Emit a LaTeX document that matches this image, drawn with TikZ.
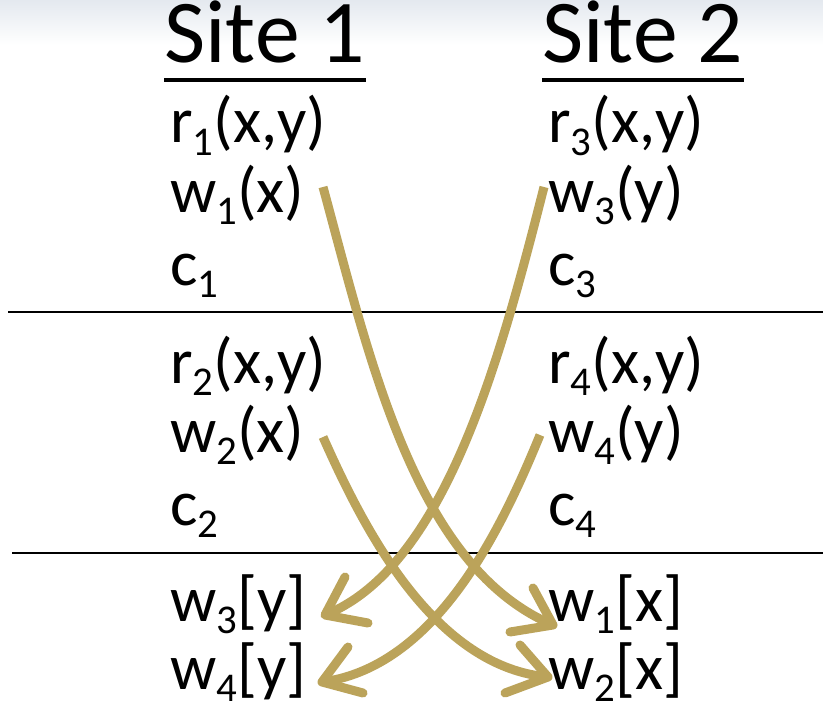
\documentclass[tikz,border=0pt]{standalone}
\usepackage{fontspec}
\setmainfont{Carlito}
\usetikzlibrary{calc}
\definecolor{gold}{HTML}{BBA35A}
\definecolor{haze}{HTML}{E4E9EF}
\newcommand{\low}[1]{\raisebox{-0.2em}{\fontsize{41}{41}\selectfont #1}}
\tikzset{
  sitehead/.style={
    anchor=base west,
    inner sep=0pt,
    text height=0.66em,
    text depth=0pt,
    font=\fontsize{90}{90}\selectfont
  },
  op/.style={
    anchor=base west,
    inner sep=0pt,
    text height=0.7em,
    text depth=0.22em,
    font=\fontsize{65}{65}\selectfont
  },
  headrule/.style={
    draw=black,
    line width=4bp
  },
  cut/.style={
    draw=black,
    line width=2bp
  },
  msg/.style={
    draw=gold,
    line width=9bp,
    shorten >=2bp
  },
  barb/.style={
    draw=gold,
    line width=9bp,
    line cap=round,
    line join=round
  }
}

\begin{document}
\begin{tikzpicture}[x=1bp,y=-1bp]
  \useasboundingbox (0,0) rectangle (823,710);
  \shade[top color=haze, bottom color=white] (0,0) rectangle (823,45);

  % Site headings
  \node[sitehead] (site1) at (164,63) {Site 1};
  \node[sitehead] (site2) at (542,63) {Site 2};
  \draw[headrule] ($(site1.base west)+(0,17)$) -- ($(site1.base east)+(0,17)$);
  \draw[headrule] ($(site2.base west)+(0,17)$) -- ($(site2.base east)+(0,17)$);

  % Site 1 operations
  \node[op] (r1) at (170,143) {r\low{1}(x,y)};
  \node[op] (w1) at (170,212) {w\low{1}(x)};
  \node[op] (c1) at (170,285) {c\low{1}};
  \node[op] (r2) at (170,383) {r\low{2}(x,y)};
  \node[op] (w2) at (170,452) {w\low{2}(x)};
  \node[op] (c2) at (170,525) {c\low{2}};
  \node[op] (w3y) at (170,621) {w\low{3}[y]};
  \node[op] (w4y) at (170,689) {w\low{4}[y]};

  % Site 2 operations
  \node[op] (r3) at (548,143) {r\low{3}(x,y)};
  \node[op] (w3) at (548,212) {w\low{3}(y)};
  \node[op] (c3) at (548,285) {c\low{3}};
  \node[op] (r4) at (548,383) {r\low{4}(x,y)};
  \node[op] (w4) at (548,452) {w\low{4}(y)};
  \node[op] (c4) at (548,525) {c\low{4}};
  \node[op] (w1x) at (548,621) {w\low{1}[x]};
  \node[op] (w2x) at (548,689) {w\low{2}[x]};

  % Separators
  \coordinate (cutA) at (8,312);
  \coordinate (cutA') at (823,312);
  \coordinate (cutB) at (12,553);
  \coordinate (cutB') at (823,553);
  \draw[cut] (cutA) -- (cutA');
  \draw[cut] (cutB) -- (cutB');

  % Propagated writes
  \coordinate (w1s) at (323,187);
  \coordinate (w2s) at (323,437);
  \coordinate (w3s) at (544,187);
  \coordinate (w4s) at (540,435);
  \coordinate (w1e) at (553,625);
  \coordinate (w2e) at (548,677);
  \coordinate (w3e) at (325,615);
  \coordinate (w4e) at (322,682);
  \draw[msg] (w1s) .. controls (370,360) and (415,565) .. (w1e);
  \draw[msg] (w2s) .. controls (360,520) and (430,665) .. (w2e);
  \draw[msg] (w3s) .. controls (500,360) and (445,565) .. (w3e);
  \draw[msg] (w4s) .. controls (505,520) and (440,665) .. (w4e);

  % Arrow heads
  \draw[barb] ($(w1e)+(-20,-37)$) -- (w1e) -- ($(w1e)+(-43,7)$);
  \draw[barb] ($(w2e)+(-28,-32)$) -- (w2e) -- ($(w2e)+(-43,16)$);
  \draw[barb] ($(w3e)+(20,-38)$) -- (w3e) -- ($(w3e)+(43,8)$);
  \draw[barb] ($(w4e)+(26,-35)$) -- (w4e) -- ($(w4e)+(41,11)$);
\end{tikzpicture}
\end{document}
